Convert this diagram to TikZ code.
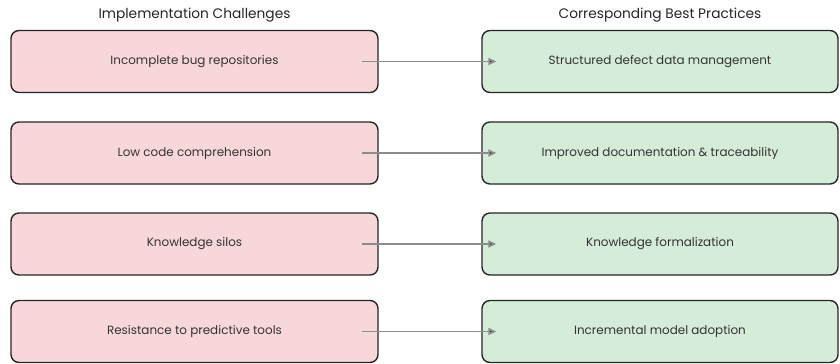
\documentclass[tikz,border=0pt]{standalone}
\usepackage{fontspec}
\setmainfont{Poppins}
\usetikzlibrary{arrows.meta}

\definecolor{chalfill}{HTML}{F8D7DA}
\definecolor{pracfill}{HTML}{D5ECD9}
\definecolor{arrowgray}{HTML}{8C8C8C}

\tikzset{
  chalbox/.style={draw=black!85, line width=1.4pt, rounded corners=8bp, fill=chalfill,
    minimum width=367bp, minimum height=62bp, font=\fontsize{12}{14}\selectfont, text=black!80},
  pracbox/.style={chalbox, fill=pracfill, minimum width=356bp},
  link/.style={-{Triangle[length=8bp,width=7bp]}, draw=arrowgray, line width=1.8pt,
    shorten <=-17bp, shorten >=-15bp},
  heading/.style={font=\fontsize{13.8}{16}\selectfont, text=black!85}
}

\begin{document}
\begin{tikzpicture}[x=1bp,y=-1bp]
  \useasboundingbox (0,0) rectangle (840,363);

  \node[heading] (chalhead) at (194.5,15) {Implementation Challenges};
  \node[heading] (prachead) at (660,15) {Corresponding Best Practices};

  \node[chalbox] (chal1) at (194.5,61.5) {Incomplete bug repositories};
  \node[pracbox] (prac1) at (660,61.5) {Structured defect data management};

  \node[chalbox] (chal2) at (194.5,153) {Low code comprehension};
  \node[pracbox] (prac2) at (660,153) {Improved documentation \& traceability};

  \node[chalbox] (chal3) at (194.5,244) {Knowledge silos};
  \node[pracbox] (prac3) at (660,244) {Knowledge formalization};

  \node[chalbox] (chal4) at (194.5,331.5) {Resistance to predictive tools};
  \node[pracbox] (prac4) at (660,331.5) {Incremental model adoption};

  \path[link] (chal1) edge (prac1);
  \path[link] (chal2) edge (prac2);
  \path[link] (chal3) edge (prac3);
  \path[link] (chal4) edge (prac4);
\end{tikzpicture}
\end{document}
